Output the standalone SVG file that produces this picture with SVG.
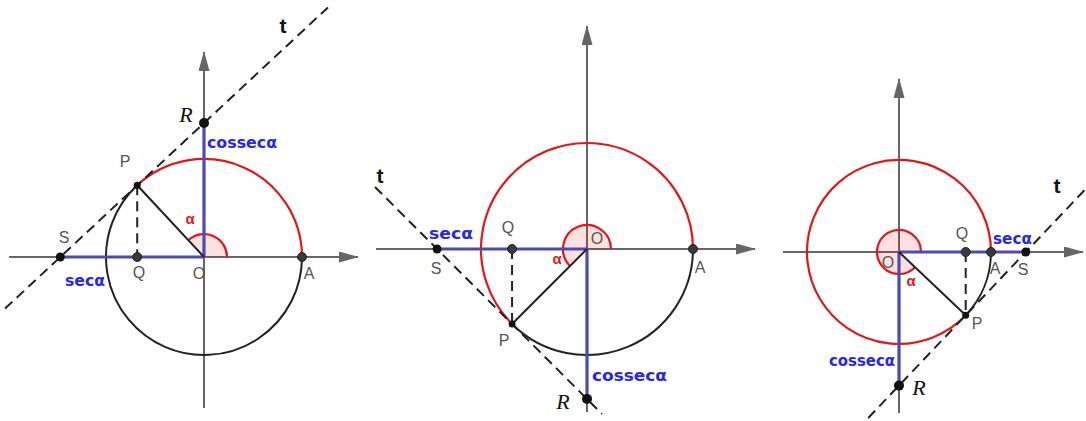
<svg xmlns="http://www.w3.org/2000/svg" width="1086" height="421" viewBox="0 0 1086 421">
<defs>
<marker id="arr" markerUnits="userSpaceOnUse" markerWidth="20" markerHeight="11" refX="19" refY="5.5" orient="auto">
<path d="M0,0 L20,5.5 L0,11 z" fill="#666"/>
</marker>
<style>
.axis{stroke:#666;stroke-width:2;fill:none;marker-end:url(#arr)}
.red{stroke:#e01818;stroke-width:2.2;fill:none}
.blk{stroke:#222;stroke-width:2;fill:none}
.sector{fill:rgba(255,0,0,0.12);stroke:none}
.blue{stroke:#4b4bb4;stroke-width:3.2;fill:none}
.dash{stroke:#222;stroke-width:2;fill:none;stroke-dasharray:10 6}
.dot{fill:#111}
.gdot{fill:#3a3a3a;stroke:#222;stroke-width:1}
.lbl{font-family:"Liberation Sans",Arial,sans-serif;font-size:16px;fill:#555;text-anchor:middle}
.bl{font-family:"DejaVu Sans",sans-serif;font-weight:bold;font-size:15px;fill:#2626ee}
.al{font-family:"Liberation Sans",Arial,sans-serif;font-size:15px;fill:#e01818;text-anchor:middle;font-weight:bold}
.t{font-family:"Liberation Sans",Arial,sans-serif;font-size:21px;font-weight:bold;fill:#111;text-anchor:middle}
.R{font-family:"Liberation Serif","Times New Roman",serif;font-style:italic;font-size:22px;fill:#111;text-anchor:middle}
</style>
</defs>
<rect width="1086" height="421" fill="#fff"/>

<g id="panel1">
<g id="axes1">
<line class="axis" x1="9" y1="257" x2="358" y2="257"/>
<line class="axis" x1="204" y1="408" x2="204" y2="52"/>
</g>
<g id="circle1">
<path class="red" d="M302 257 A98 98 0 0 0 137.2 185.3"/>
<path class="blk" d="M137.2 185.3 A98 98 0 1 0 302 257"/>
</g>
<g id="angle1"><path class="sector" d="M204 257 L227 257 A23 23 0 0 0 188.3 240.2 Z"/><path class="red" d="M227 257 A23 23 0 0 0 188.3 240.2"/></g>
<g id="connectors1">
<line class="blue" x1="60.3" y1="257" x2="204" y2="257"/>
<line class="blue" x1="204" y1="123" x2="204" y2="257"/>
<line class="blk" x1="204" y1="257" x2="137.2" y2="185.3"/>
<line class="dash" x1="137.2" y1="185.3" x2="137.2" y2="257"/>
<line class="dash" x1="5" y1="308.6" x2="328" y2="7.4"/>
</g>
<g id="S1"><circle class="dot" cx="60.3" cy="257" r="4.5"/><text class="lbl" x="64" y="243">S</text></g>
<g id="Q1"><circle class="gdot" cx="137.2" cy="257" r="4.5"/><text class="lbl" x="139" y="278">Q</text></g>
<g id="O1"><text class="lbl" x="199" y="279">O</text></g>
<g id="A1"><circle class="gdot" cx="302" cy="257" r="4.5"/><text class="lbl" x="309" y="279">A</text></g>
<g id="P1"><circle class="dot" cx="137.2" cy="185.3" r="3.5"/><text class="lbl" x="125" y="167">P</text></g>
<g id="R1"><circle class="dot" cx="204" cy="123" r="5"/><text class="R" x="186" y="122">R</text></g>
<g id="t1"><text class="t" x="283" y="33">t</text></g>
<g id="alpha1"><text class="al" x="190" y="224">α</text></g>
<g id="cossec1"><text class="bl" x="207" y="148" textLength="70" lengthAdjust="spacingAndGlyphs">cossecα</text></g>
<g id="sec1"><text class="bl" x="65" y="286" textLength="40" lengthAdjust="spacingAndGlyphs">secα</text></g>
</g>

<g id="panel2">
<g id="axes2">
<line class="axis" x1="376" y1="249" x2="755" y2="249"/>
<line class="axis" x1="587" y1="412" x2="587" y2="26"/>
</g>
<g id="circle2">
<path class="red" d="M693 249 A106 106 0 1 0 512.05 323.95"/>
<path class="blk" d="M512.05 323.95 A106 106 0 0 0 693 249"/>
</g>
<g id="angle2"><path class="sector" d="M587 249 L611 249 A24 24 0 1 0 570.03 265.97 Z"/><path class="red" d="M611 249 A24 24 0 1 0 570.03 265.97"/></g>
<g id="connectors2">
<line class="blue" x1="437.1" y1="249" x2="587" y2="249"/>
<line class="blue" x1="587" y1="249" x2="587" y2="398.9"/>
<line class="blk" x1="587" y1="249" x2="512.05" y2="323.95"/>
<line class="dash" x1="512.05" y1="249" x2="512.05" y2="323.95"/>
<line class="dash" x1="375" y1="187" x2="602" y2="414"/>
</g>
<g id="S2"><circle class="dot" cx="437.1" cy="249" r="4.5"/><text class="lbl" x="436" y="274">S</text></g>
<g id="Q2"><circle class="gdot" cx="512.05" cy="249" r="4.5"/><text class="lbl" x="508" y="233">Q</text></g>
<g id="O2"><text class="lbl" x="597" y="244">O</text></g>
<g id="A2"><circle class="gdot" cx="693" cy="249" r="4.5"/><text class="lbl" x="700" y="273">A</text></g>
<g id="P2"><circle class="dot" cx="512.05" cy="323.95" r="3.5"/><text class="lbl" x="504" y="346">P</text></g>
<g id="R2"><circle class="dot" cx="587" cy="398.9" r="5"/><text class="R" x="563" y="409">R</text></g>
<g id="t2"><text class="t" x="380" y="183">t</text></g>
<g id="alpha2"><text class="al" x="557" y="264">α</text></g>
<g id="cossec2"><text class="bl" x="592" y="381" textLength="75" lengthAdjust="spacingAndGlyphs">cossecα</text></g>
<g id="sec2"><text class="bl" x="429" y="239" textLength="44" lengthAdjust="spacingAndGlyphs">secα</text></g>
</g>

<g id="panel3">
<g id="axes3">
<line class="axis" x1="783" y1="252" x2="1083" y2="252"/>
<line class="axis" x1="899" y1="413" x2="899" y2="79"/>
</g>
<g id="circle3">
<path class="red" d="M991 252 A92 92 0 1 0 965.7 315.3"/>
<path class="blk" d="M965.7 315.3 A92 92 0 0 0 991 252"/>
</g>
<g id="angle3"><path class="sector" d="M899 252 L921 252 A22 22 0 1 0 914.96 267.14 Z"/><path class="red" d="M921 252 A22 22 0 1 0 914.96 267.14"/></g>
<g id="connectors3">
<line class="blue" x1="899" y1="252" x2="1025.8" y2="252"/>
<line class="blue" x1="899" y1="252" x2="899" y2="385.6"/>
<line class="blk" x1="899" y1="252" x2="965.7" y2="315.3"/>
<line class="dash" x1="965.7" y1="252" x2="965.7" y2="315.3"/>
<line class="dash" x1="868.2" y1="418" x2="1086" y2="188.6"/>
</g>
<g id="S3"><circle class="dot" cx="1025.8" cy="252" r="4.5"/><text class="lbl" x="1023" y="275">S</text></g>
<g id="Q3"><circle class="gdot" cx="965.7" cy="252" r="4.5"/><text class="lbl" x="962" y="239">Q</text></g>
<g id="O3"><text class="lbl" x="888" y="268">O</text></g>
<g id="A3"><circle class="gdot" cx="991" cy="252" r="4.5"/><text class="lbl" x="995" y="274">A</text></g>
<g id="P3"><circle class="dot" cx="965.7" cy="315.3" r="3.5"/><text class="lbl" x="977" y="329">P</text></g>
<g id="R3"><circle class="dot" cx="899" cy="385.6" r="5"/><text class="R" x="919" y="395">R</text></g>
<g id="t3"><text class="t" x="1057" y="193">t</text></g>
<g id="alpha3"><text class="al" x="911" y="286">α</text></g>
<g id="cossec3"><text class="bl" x="829" y="366" textLength="66" lengthAdjust="spacingAndGlyphs">cossecα</text></g>
<g id="sec3"><text class="bl" x="993" y="244" textLength="39" lengthAdjust="spacingAndGlyphs">secα</text></g>
</g>
</svg>
